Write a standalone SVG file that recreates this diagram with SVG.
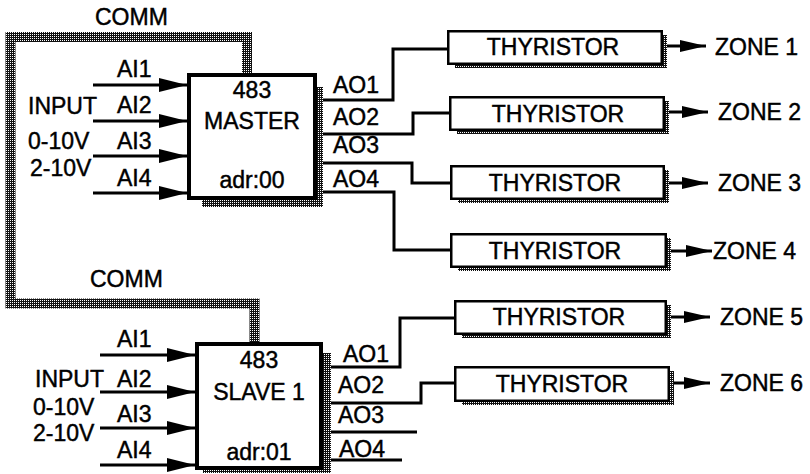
<svg xmlns="http://www.w3.org/2000/svg" width="810" height="474" viewBox="0 0 810 474">
<style>
text{font-family:"Liberation Sans",Arial,sans-serif;font-size:23px;fill:#000;stroke:#000;stroke-width:0.45}
.c{text-anchor:middle}
.ln{fill:none;stroke:#000;stroke-width:3}
.ctl{fill:#fff;stroke:#000;stroke-width:4}
.thy{fill:#fff;stroke:#000;stroke-width:2.5}
.sh{fill:url(#dots)}
</style>
<defs>
<pattern id="dots" width="2" height="2" patternUnits="userSpaceOnUse">
<rect width="2" height="2" fill="#111"/>
<rect width="1" height="1" fill="#fff"/>
</pattern>
<marker id="ah" markerUnits="userSpaceOnUse" markerWidth="28" markerHeight="14" refX="28" refY="7" orient="auto">
<path d="M0 0 L28 7 L0 14 Z" fill="#000"/>
</marker>
<marker id="ahz" markerUnits="userSpaceOnUse" markerWidth="26" markerHeight="12" refX="26" refY="6" orient="auto">
<path d="M0 0 L26 6 L0 12 Z" fill="#000"/>
</marker>
</defs>

<g id="comm-bus">
<path d="M247 73 V37 H10.5 V303.5 H254.5 V342" fill="none" stroke="url(#dots)" stroke-width="10"/>
<text x="95" y="25">COMM</text>
<text x="90" y="287">COMM</text>
</g>

<g id="master">
<rect class="sh" x="317" y="87" width="6" height="120"/>
<rect class="sh" x="202" y="200" width="121" height="7"/>
<rect class="ctl" x="189" y="75" width="126" height="123"/>
<text class="c" x="252" y="98">483</text>
<text class="c" x="252" y="129">MASTER</text>
<text class="c" x="252" y="188">adr:00</text>
</g>

<g id="slave1">
<rect class="sh" x="323" y="353" width="8" height="120"/>
<rect class="sh" x="203" y="470" width="128" height="3"/>
<rect class="ctl" x="197" y="344" width="124" height="124"/>
<text class="c" x="259" y="368">483</text>
<text class="c" x="259" y="400">SLAVE 1</text>
<text class="c" x="259" y="460">adr:01</text>
</g>

<g id="master-inputs">
<text x="28" y="114">INPUT</text>
<text x="28" y="149">0-10V</text>
<text x="30" y="176">2-10V</text>
<text x="117" y="77">AI1</text>
<text x="117" y="113">AI2</text>
<text x="117" y="149">AI3</text>
<text x="117" y="186">AI4</text>
</g>

<g id="slave-inputs">
<text x="35" y="387">INPUT</text>
<text x="33" y="415">0-10V</text>
<text x="33" y="441">2-10V</text>
<text x="117" y="347">AI1</text>
<text x="117" y="387">AI2</text>
<text x="117" y="422">AI3</text>
<text x="117" y="458">AI4</text>
</g>

<g id="master-outputs">
<text x="333" y="93">AO1</text>
<text x="333" y="125">AO2</text>
<text x="333" y="153">AO3</text>
<text x="333" y="187">AO4</text>
</g>

<g id="slave-outputs">
<text x="343" y="362">AO1</text>
<text x="338" y="393">AO2</text>
<text x="338" y="423">AO3</text>
<text x="339" y="457">AO4</text>
</g>

<g id="thyristor1">
<rect class="sh" x="663" y="35" width="4" height="33"/>
<rect class="sh" x="455" y="65" width="212" height="3"/>
<rect class="thy" x="448.25" y="31.25" width="213.5" height="32.5"/>
<text class="c" x="553" y="55">THYRISTOR</text>
</g>
<g id="thyristor2">
<rect class="sh" x="665" y="101" width="4" height="33"/>
<rect class="sh" x="457" y="131" width="212" height="3"/>
<rect class="thy" x="450.25" y="97.25" width="213.5" height="32.5"/>
<text class="c" x="558" y="122">THYRISTOR</text>
</g>
<g id="thyristor3">
<rect class="sh" x="665" y="170" width="4" height="33"/>
<rect class="sh" x="458" y="200" width="211" height="3"/>
<rect class="thy" x="451.25" y="166.25" width="212.5" height="32.5"/>
<text class="c" x="555" y="191">THYRISTOR</text>
</g>
<g id="thyristor4">
<rect class="sh" x="667" y="238" width="4" height="33"/>
<rect class="sh" x="458" y="268" width="213" height="3"/>
<rect class="thy" x="451.25" y="234.25" width="214.5" height="32.5"/>
<text class="c" x="555" y="259">THYRISTOR</text>
</g>
<g id="thyristor5">
<rect class="sh" x="667" y="305" width="4" height="33"/>
<rect class="sh" x="462" y="335" width="209" height="3"/>
<rect class="thy" x="455.25" y="301.25" width="210.5" height="32.5"/>
<text class="c" x="559" y="325">THYRISTOR</text>
</g>
<g id="thyristor6">
<rect class="sh" x="670" y="371" width="4" height="34"/>
<rect class="sh" x="462" y="402" width="212" height="3"/>
<rect class="thy" x="455.25" y="367.25" width="213.5" height="33.5"/>
<text class="c" x="562" y="392">THYRISTOR</text>
</g>

<g id="zones">
<text x="715" y="55">ZONE 1</text>
<text x="718" y="120">ZONE 2</text>
<text x="718" y="191">ZONE 3</text>
<text x="713" y="259">ZONE 4</text>
<text x="720" y="325">ZONE 5</text>
<text x="720" y="391">ZONE 6</text>
</g>

<g id="connectors">
<path class="ln" d="M93 85 H187" marker-end="url(#ah)"/>
<path class="ln" d="M93 121 H187" marker-end="url(#ah)"/>
<path class="ln" d="M93 156 H187" marker-end="url(#ah)"/>
<path class="ln" d="M93 193 H187" marker-end="url(#ah)"/>
<path class="ln" d="M100 355 H195" marker-end="url(#ah)"/>
<path class="ln" d="M100 392 H195" marker-end="url(#ah)"/>
<path class="ln" d="M100 428 H195" marker-end="url(#ah)"/>
<path class="ln" d="M100 465 H195" marker-end="url(#ah)"/>
<path class="ln" d="M323 100 H393 V49 H447"/>
<path class="ln" d="M323 134 H413 V113 H449"/>
<path class="ln" d="M323 163 H412 V183 H450"/>
<path class="ln" d="M323 192 H394 V250 H450"/>
<path class="ln" d="M331 367 H400 V318 H454"/>
<path class="ln" d="M331 403 H421 V383 H454"/>
<path class="ln" d="M331 432 H417"/>
<path class="ln" d="M331 460 H402"/>
<path class="ln" d="M667 46 H706" marker-end="url(#ahz)"/>
<path class="ln" d="M669 112 H708" marker-end="url(#ahz)"/>
<path class="ln" d="M669 183 H708" marker-end="url(#ahz)"/>
<path class="ln" d="M671 251 H712" marker-end="url(#ahz)"/>
<path class="ln" d="M671 317 H710" marker-end="url(#ahz)"/>
<path class="ln" d="M674 383 H710" marker-end="url(#ahz)"/>
</g>
</svg>
